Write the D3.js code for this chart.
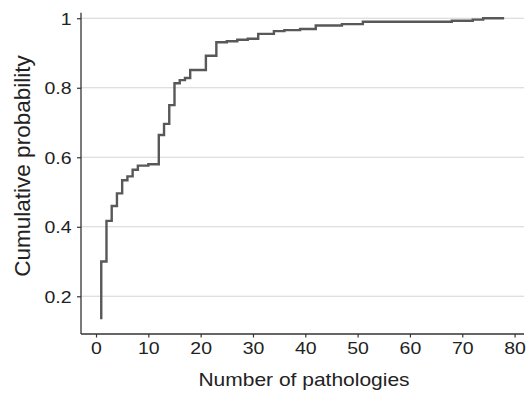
<!DOCTYPE html>
<html>
<head>
<meta charset="utf-8">
<script src="https://cdn.jsdelivr.net/npm/d3@7"></script>
<style>
  body { margin: 0; background: #fff; }
  svg { display: block; }
  text { font-family: "Liberation Sans", Arial, sans-serif; fill: #222; }
</style>
</head>
<body>
<svg class="cdf" width="532" height="393"></svg>
<script>
// number of pathologies (x) and cumulative probability (y)
let pathologies = [1, 1, 2, 3, 4, 5, 6, 7, 8, 10, 12, 13, 14, 15, 16, 17, 18, 21, 23,
                   25, 27, 29, 31, 34, 36, 39, 42, 47, 51, 68, 72, 74, 78];
let cumProb = [0.134, 0.300, 0.417, 0.460, 0.496, 0.534, 0.545, 0.564, 0.576, 0.580,
               0.664, 0.696, 0.750, 0.813, 0.822, 0.828, 0.851, 0.892, 0.931,
               0.934, 0.938, 0.941, 0.955, 0.963, 0.966, 0.969, 0.979, 0.983,
               0.990, 0.993, 0.996, 1.000, 1.000];
let xTicks = [0, 10, 20, 30, 40, 50, 60, 70, 80];
let yTicks = [0.2, 0.4, 0.6, 0.8, 1];

let svg = d3.select("body").select(".cdf");
let stretch = 1.18; // the figure's type is a bit wider than plain Helvetica

let plotLeft = 81, plotRight = 524, plotTop = 12.7, plotBottom = 334;

let x = d3.scaleLinear().domain([-2.87, 81.8]).range([plotLeft, plotRight]);
let y = d3.scaleLinear().domain([0.0915, 1.016]).range([plotBottom, plotTop]);

// grid lines
svg.append("g").attr("class", "grid")
  .selectAll("line")
  .data(yTicks)
  .enter().append("line")
  .attr("x1", plotLeft).attr("x2", plotRight)
  .attr("y1", d => y(d)).attr("y2", d => y(d))
  .style("stroke", "#d4d4d4")
  .style("stroke-width", 1.1);

// the step curve
let pts = pathologies.map((p, i) => [p, cumProb[i]]);
let line = d3.line()
  .x(d => x(d[0]))
  .y(d => y(d[1]))
  .curve(d3.curveStepAfter);

svg.append("path")
  .datum(pts)
  .attr("d", line)
  .style("fill", "none")
  .style("stroke", "#585858")
  .style("stroke-width", 2.4)
  .style("stroke-linejoin", "miter")
  .style("stroke-linecap", "butt");

// axes
let xAxis = d3.axisBottom(x).tickValues(xTicks).tickSize(3.5).tickSizeOuter(0);
let yAxis = d3.axisLeft(y).tickValues(yTicks).tickSize(4).tickSizeOuter(0)
  .tickFormat(d => d === 1 ? "1" : d3.format(".1f")(d));

let xGroup = svg.append("g").attr("id", "x-axis")
  .attr("transform", translate(0, plotBottom))
  .call(xAxis);
xGroup.select(".domain").attr("d", "M" + plotLeft + ",0H" + plotRight);
xGroup.selectAll("text")
  .attr("y", 20).attr("dy", 0)
  .style("font-size", "16.5px")
  .attr("transform", "scale(" + stretch + ",1)");

let yGroup = svg.append("g").attr("id", "y-axis")
  .attr("transform", translate(plotLeft, 0))
  .call(yAxis);
yGroup.select(".domain").attr("d", "M0," + plotTop + "V" + plotBottom);
yGroup.selectAll("text")
  .attr("x", -9.5 / stretch).attr("dy", "0.36em")
  .style("font-size", "16.5px")
  .attr("transform", "scale(" + stretch + ",1)");

svg.selectAll(".domain").style("stroke", "#333").style("stroke-width", 1.3);
svg.selectAll(".tick line").style("stroke", "#333").style("stroke-width", 1.2);
svg.selectAll(".tick text").style("fill", "#222").style("font-family", '"Liberation Sans", Arial, sans-serif');

// axis titles
svg.append("text")
  .attr("class", "x-axis-label")
  .attr("transform", translate(304, 386) + " scale(1.2,1)")
  .style("text-anchor", "middle")
  .style("font-size", "17.5px")
  .text("Number of pathologies");

svg.append("text")
  .attr("class", "y-axis-label")
  .attr("transform", translate(30, 166) + " rotate(-90)")
  .style("text-anchor", "middle")
  .style("font-size", "22.5px")
  .text("Cumulative probability");

function translate(x, y) {
  return 'translate(' + x + ',' + y + ')';
}
</script>
</body>
</html>
